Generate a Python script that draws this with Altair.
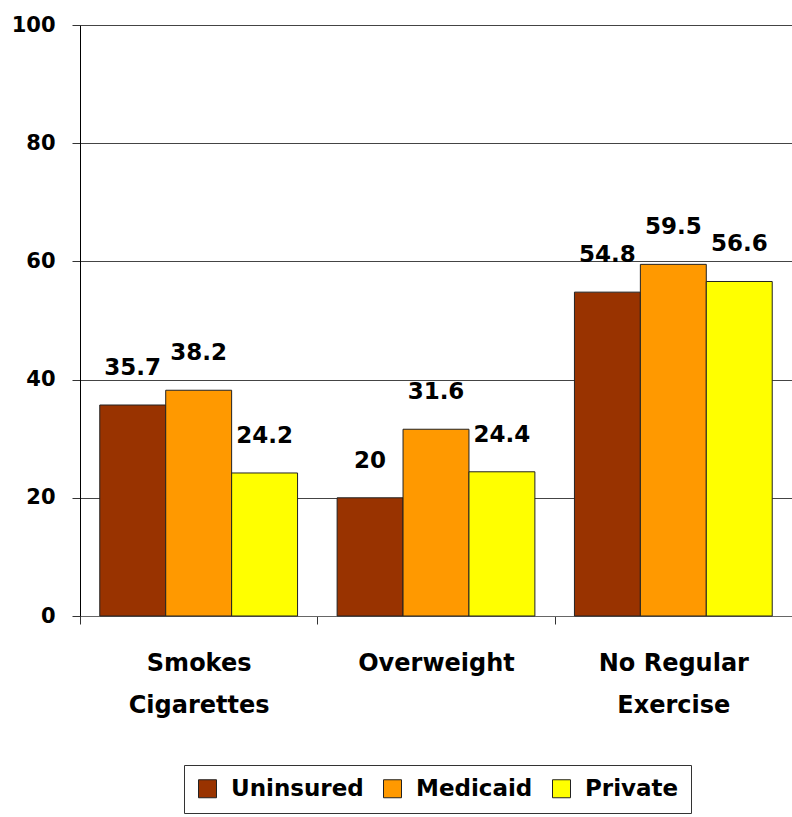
import altair as alt
import pandas as pd

# Health-risk shares (%) by insurance status
categories = ["Smokes|Cigarettes", "Overweight", "No Regular|Exercise"]
series = ["Uninsured", "Medicaid", "Private"]
uninsured = [35.7, 20, 54.8]
medicaid = [38.2, 31.6, 59.5]
private = [24.2, 24.4, 56.6]
colors = ["#993300", "#FF9900", "#FFFF00"]

rows = []
for i, cat in enumerate(categories):
    for name, vals in zip(series, [uninsured, medicaid, private]):
        rows.append({"category": cat, "insurance": name, "value": vals[i]})
df = pd.DataFrame(rows)

FONT = "DejaVu Sans"

x_enc = alt.X(
    "category:N",
    sort=categories,
    title=None,
    scale=alt.Scale(paddingInner=0, paddingOuter=0),
    axis=alt.Axis(
        labelExpr="split(datum.label, '|')",
        labelAngle=0,
        labelFont=FONT,
        labelFontSize=24,
        labelFontWeight="bold",
        labelColor="black",
        labelLineHeight=42,
        labelPadding=27,
        tickBand="extent",
        tickSize=8,
        tickColor="#333",
        domainColor="#666",
        grid=False,
    ),
)
xoff_enc = alt.XOffset(
    "insurance:N",
    sort=series,
    scale=alt.Scale(paddingInner=0, paddingOuter=0.3),
)
y_enc = alt.Y(
    "value:Q",
    title=None,
    scale=alt.Scale(domain=[0, 100], nice=False),
    axis=alt.Axis(
        values=[0, 20, 40, 60, 80, 100],
        labelFont=FONT,
        labelFontSize=21,
        labelFontWeight="bold",
        labelColor="black",
        labelPadding=17,
        tickSize=8,
        tickColor="#333",
        domainColor="black",
        grid=True,
        gridColor="#444",
        gridWidth=1,
    ),
)

base = alt.Chart(df)

bars = base.mark_bar(stroke="#222", strokeWidth=1).encode(
    x=x_enc,
    xOffset=xoff_enc,
    y=y_enc,
    color=alt.Color(
        "insurance:N",
        sort=series,
        scale=alt.Scale(domain=series, range=colors),
        legend=alt.Legend(
            title=None,
            orient="none",
            direction="horizontal",
            legendX=104,
            legendY=740,
            symbolType="square",
            symbolSize=324,
            symbolStrokeColor="#222",
            symbolStrokeWidth=1,
            symbolOpacity=1,
            labelFont=FONT,
            labelFontSize=23,
            labelFontWeight="bold",
            labelColor="black",
            labelOffset=12,
            columnPadding=17,
            padding=12,
            strokeColor="#333",
            fillColor="white",
        ),
    ),
)

labels = base.mark_text(
    font=FONT,
    fontSize=23,
    fontWeight="bold",
    color="black",
    baseline="alphabetic",
    dy=-30,
).encode(
    x=alt.X("category:N", sort=categories),
    xOffset=alt.XOffset("insurance:N", sort=series),
    y=alt.Y("value:Q"),
    text=alt.Text("value:Q"),
)

chart = (
    alt.layer(bars, labels)
    .properties(
        width=712,
        height=591,
        autosize=alt.AutoSizeParams(type="none"),
        padding={"left": 80, "top": 25, "right": 0, "bottom": 201},
    )
    .configure_view(stroke=None)
    .configure(background="white")
)

chart.save("out.html", embed_options={"renderer": "svg", "actions": False})
